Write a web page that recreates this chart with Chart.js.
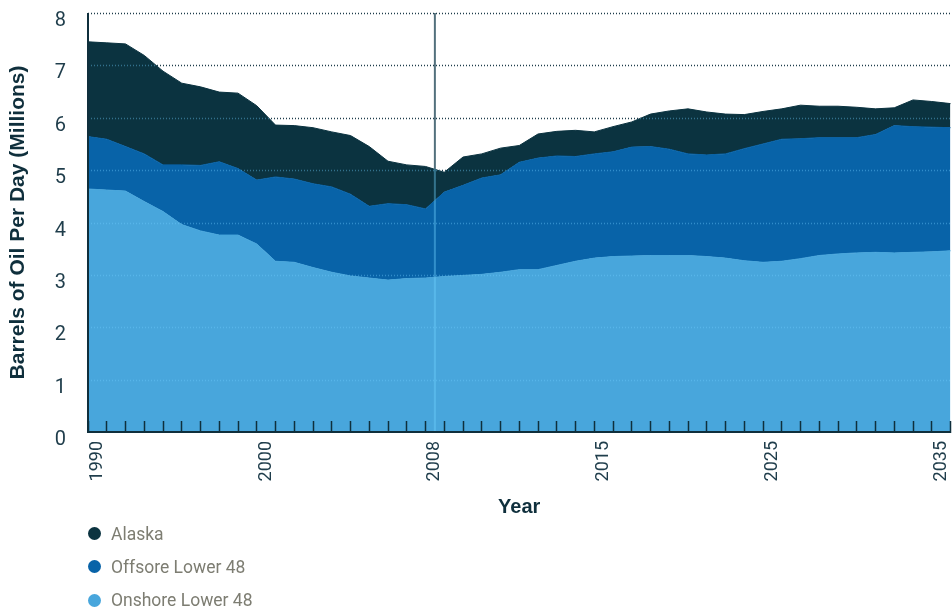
<!DOCTYPE html>
<html>
<head>
<meta charset="utf-8">
<script src="https://cdn.jsdelivr.net/npm/chart.js@4"></script>
<style>
  body { margin: 0; background: #fff; }
  #wrap { position: relative; width: 952px; height: 613px; }
  #legend { position: absolute; left: 88px; top: 517px; font-family: Roboto, 'Liberation Sans', sans-serif; font-size: 17.5px; color: #7d7d72; }
  #legend .item { height: 33.3px; display: flex; align-items: center; }
  #legend .dot { width: 13px; height: 13px; border-radius: 50%; margin-right: 10px; }
</style>
</head>
<body>
<div id="wrap">
  <canvas id="myChart" width="952" height="613"></canvas>
  <div id="legend"></div>
</div>
<script>
// tick labels shown every 9th category
const tickYears = ['1990', '2000', '2008', '2015', '2025', '2035'];
const tickStep = 9;
const markerYear = '2008';

// million barrels per day
const onshore = [4.64, 4.62, 4.60, 4.40, 4.21, 3.96, 3.84, 3.76, 3.76, 3.59,
  3.26, 3.24, 3.14, 3.05, 2.98, 2.94, 2.90, 2.93, 2.94, 2.97,
  2.99, 3.01, 3.05, 3.10, 3.10, 3.18, 3.26, 3.32, 3.35, 3.36,
  3.37, 3.37, 3.37, 3.35, 3.32, 3.27, 3.24, 3.26, 3.31, 3.37,
  3.40, 3.42, 3.43, 3.42, 3.43, 3.44, 3.46];
const offshore = [1.00, 0.97, 0.85, 0.91, 0.89, 1.14, 1.25, 1.40, 1.27, 1.22,
  1.61, 1.59, 1.60, 1.63, 1.56, 1.37, 1.46, 1.41, 1.32, 1.61,
  1.72, 1.84, 1.86, 2.05, 2.13, 2.09, 2.00, 1.99, 2.00, 2.08,
  2.08, 2.03, 1.94, 1.94, 1.99, 2.14, 2.26, 2.33, 2.29, 2.25,
  2.22, 2.20, 2.25, 2.43, 2.40, 2.38, 2.35];
const alaska = [1.81, 1.84, 1.96, 1.88, 1.79, 1.56, 1.50, 1.33, 1.44, 1.42,
  0.99, 1.02, 1.07, 1.05, 1.12, 1.14, 0.81, 0.76, 0.81, 0.38,
  0.54, 0.46, 0.51, 0.32, 0.46, 0.47, 0.50, 0.42, 0.48, 0.48,
  0.62, 0.73, 0.86, 0.82, 0.76, 0.65, 0.62, 0.58, 0.64, 0.60,
  0.60, 0.58, 0.49, 0.34, 0.51, 0.49, 0.46];

const categories = onshore.map((v, i) => i);
const markerIndex = tickYears.indexOf(markerYear) * tickStep + 0.5;

const dark = '#0f2f3c';
const tickFont = "Roboto, 'Liberation Sans', sans-serif";
const titleFont = "'Liberation Sans', Arial, sans-serif";

function line(ctx, x1, y1, x2, y2) {
  ctx.beginPath();
  ctx.moveTo(x1, y1);
  ctx.lineTo(x2, y2);
  ctx.stroke();
}

// dotted grid + 2008 marker: dark where the chart is empty, light tint on the fills
const gridPlugin = {
  id: 'gridPlugin',
  afterDatasetsDraw(chart) {
    const {ctx, chartArea: a, scales: {x, y}} = chart;
    const mx = x.getPixelForValue(markerIndex);
    ctx.save();
    ctx.beginPath();
    ctx.rect(a.left, a.top - 2, a.right - a.left + 2, a.bottom - a.top + 2);
    ctx.clip();

    ctx.globalCompositeOperation = 'source-atop';
    ctx.strokeStyle = 'rgba(110, 205, 255, 0.4)';
    ctx.lineWidth = 1.5;
    ctx.setLineDash([1, 2]);
    y.ticks.forEach(t => {
      const py = Math.round(y.getPixelForValue(t.value)) + 0.5;
      line(ctx, a.left, py, a.right + 2, py);
    });
    ctx.setLineDash([]);
    ctx.lineWidth = 2;
    ctx.strokeStyle = 'rgba(110, 210, 255, 0.4)';
    line(ctx, mx, a.top, mx, a.bottom);

    ctx.globalCompositeOperation = 'destination-over';
    ctx.strokeStyle = '#1d3c4a';
    ctx.lineWidth = 1.5;
    ctx.setLineDash([1, 2]);
    y.ticks.forEach(t => {
      const py = Math.round(y.getPixelForValue(t.value)) + 0.5;
      line(ctx, a.left, py, a.right + 2, py);
    });
    ctx.setLineDash([]);
    ctx.lineWidth = 2;
    ctx.strokeStyle = '#52707c';
    line(ctx, mx, a.top, mx, a.bottom);
    ctx.restore();

    ctx.save();
    ctx.strokeStyle = dark;
    ctx.lineWidth = 2;
    line(ctx, a.left, a.top, a.left, a.bottom);
    ctx.restore();
  }
};

const datasets = [
  {label: 'Onshore Lower 48', data: onshore, backgroundColor: '#48a6dc', borderColor: '#48a6dc', fill: 'origin'},
  {label: 'Offsore Lower 48', data: offshore, backgroundColor: '#0863a8', borderColor: '#0863a8', fill: '-1'},
  {label: 'Alaska', data: alaska, backgroundColor: '#0b3340', borderColor: '#0b3340', fill: '-1'}
];

const ctx = document.getElementById('myChart');
const chart = new Chart(ctx, {
  type: 'line',
  data: {
    labels: categories,
    datasets: datasets.map(d => Object.assign({borderWidth: 1, pointRadius: 0, tension: 0}, d))
  },
  options: {
    responsive: false,
    animation: false,
    layout: {padding: {left: 0, right: 1.5, top: 13, bottom: 93}},
    plugins: {legend: {display: false}, tooltip: {enabled: false}},
    scales: {
      x: {
        offset: false,
        grid: {z: 1, drawOnChartArea: false, drawTicks: true, tickLength: -11, tickColor: dark, tickWidth: 1.5},
        border: {z: 1, display: true, color: dark, width: 2},
        ticks: {
          autoSkip: false,
          maxRotation: 90,
          minRotation: 90,
          labelOffset: 9.4,
          padding: 20,
          color: '#1f3d4b',
          font: {family: tickFont, size: 18},
          callback: (v, i) => (i % tickStep === 0 && tickYears[i / tickStep]) ? tickYears[i / tickStep] : ''
        },
        title: {display: true, text: 'Year', color: dark, font: {family: titleFont, size: 20, weight: 'bold'}, padding: {top: 0, bottom: 1}},
        afterFit: s => { s.height = 88; s.paddingLeft = 0; s.paddingRight = 0; }
      },
      y: {
        stacked: true,
        min: 0,
        max: 8,
        grid: {display: false},
        border: {display: false},
        ticks: {stepSize: 1, padding: 14, labelOffset: 8, color: '#1f3d4b', font: {family: tickFont, size: 20}},
        title: {display: true, text: 'Barrels of Oil Per Day (Millions)', color: dark, font: {family: titleFont, size: 21, weight: 'bold'}, padding: {top: 6, bottom: 0}},
        afterFit: s => { s.width = 88; s.paddingTop = 0; s.paddingBottom = 0; }
      }
    }
  },
  plugins: [gridPlugin]
});

// legend, top to bottom like the stack
const legendEl = document.getElementById('legend');
datasets.slice().reverse().forEach(d => {
  const item = document.createElement('div');
  item.className = 'item';
  const dot = document.createElement('span');
  dot.className = 'dot';
  dot.style.background = d.backgroundColor;
  const txt = document.createElement('span');
  txt.textContent = d.label;
  item.appendChild(dot);
  item.appendChild(txt);
  legendEl.appendChild(item);
});
</script>
</body>
</html>
